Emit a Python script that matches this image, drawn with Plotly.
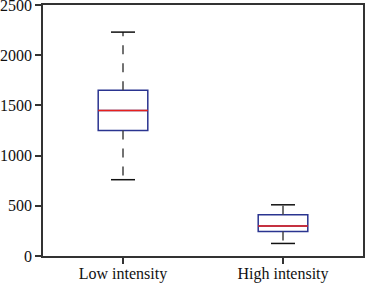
import plotly.graph_objects as go

categories = ["Low intensity", "High intensity"]
lower_whisker = [760, 125]
q1 = [1250, 245]
median = [1450, 300]
q3 = [1650, 410]
upper_whisker = [2230, 510]

box_width = 0.31
cap_half = 0.075

fig = go.Figure()
for i, cat in enumerate(categories):
    # box body
    fig.add_trace(go.Box(
        x=[i], q1=[q1[i]], median=[median[i]], q3=[q3[i]],
        lowerfence=[q1[i]], upperfence=[q3[i]],
        width=box_width, whiskerwidth=0,
        line=dict(color="#2a3490", width=1.5),
        fillcolor="rgba(0,0,0,0)", boxpoints=False, showlegend=False,
        hoverinfo="skip",
    ))
    # median
    fig.add_trace(go.Scatter(
        x=[i - box_width / 2, i + box_width / 2], y=[median[i], median[i]],
        mode="lines", line=dict(color="#e8201c", width=1.5), showlegend=False))
    # whiskers (dashed)
    fig.add_trace(go.Scatter(
        x=[i, i, None, i, i],
        y=[q3[i], upper_whisker[i], None, q1[i], lower_whisker[i]],
        mode="lines", line=dict(color="#444444", width=1.5, dash="dash"),
        showlegend=False))
    # caps
    fig.add_trace(go.Scatter(
        x=[i - cap_half, i + cap_half, None, i - cap_half, i + cap_half],
        y=[upper_whisker[i], upper_whisker[i], None, lower_whisker[i], lower_whisker[i]],
        mode="lines", line=dict(color="#111111", width=1.5), showlegend=False))

font = dict(family="Liberation Serif, Times New Roman, serif", size=16, color="#111111")
fig.update_layout(
    width=365, height=283,
    margin=dict(l=43, r=2, t=5, b=27),
    paper_bgcolor="white", plot_bgcolor="white",
    font=font, showlegend=False,
)
fig.update_xaxes(
    range=[-0.5, 1.5], tickmode="array", tickvals=list(range(len(categories))),
    ticktext=categories, ticks="outside", ticklen=6, tickwidth=1.5, tickcolor="#333333",
    showline=True, linecolor="#333333", linewidth=1.5, mirror=True,
    showgrid=False, zeroline=False, tickfont=font, automargin=False,
    ticklabeloverflow="allow", ticklabelstandoff=-4,
)
fig.update_yaxes(
    range=[0, 2500], tickvals=[0, 500, 1000, 1500, 2000, 2500],
    ticks="outside", ticklen=6, tickwidth=1.5, tickcolor="#333333",
    showline=True, linecolor="#333333", linewidth=1.5, mirror=True,
    showgrid=False, zeroline=False, tickfont=font, automargin=False,
    ticklabeloverflow="allow",
)
fig.write_html(
    "out.html",
    config={"displayModeBar": False},
    post_script="document.body.style.margin='0';document.body.style.overflow='hidden';",
)
